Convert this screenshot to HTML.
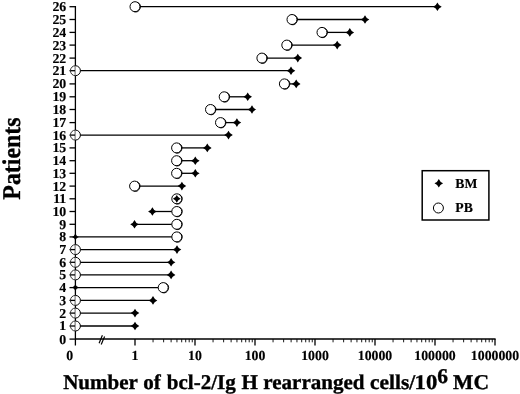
<!DOCTYPE html><html><head><meta charset="utf-8"><style>html,body{margin:0;padding:0;background:#fff;}svg{display:block;filter:grayscale(1);}text{text-rendering:geometricPrecision;font-family:"Liberation Serif",serif;font-weight:bold;fill:#000;stroke:#000;stroke-width:0.35px;}text.s{stroke-width:0.15px;}</style></head><body>
<svg width="520" height="394" viewBox="0 0 520 394">
<rect width="520" height="394" fill="#fff"/>
<line x1="75.4" y1="6.10" x2="75.4" y2="345.5" stroke="#000" stroke-width="1.3"/>
<line x1="69.5" y1="339.10" x2="75.4" y2="339.10" stroke="#000" stroke-width="1.3"/>
<text transform="translate(66.3,343.50) scale(1.02,1)" font-size="13.6" text-anchor="end" class="s">0</text>
<line x1="69.5" y1="326.00" x2="75.4" y2="326.00" stroke="#000" stroke-width="1.3"/>
<text transform="translate(66.3,330.40) scale(1.02,1)" font-size="13.6" text-anchor="end" class="s">1</text>
<line x1="69.5" y1="313.10" x2="75.4" y2="313.10" stroke="#000" stroke-width="1.3"/>
<text transform="translate(66.3,317.50) scale(1.02,1)" font-size="13.6" text-anchor="end" class="s">2</text>
<line x1="69.5" y1="300.40" x2="75.4" y2="300.40" stroke="#000" stroke-width="1.3"/>
<text transform="translate(66.3,304.80) scale(1.02,1)" font-size="13.6" text-anchor="end" class="s">3</text>
<line x1="69.5" y1="287.60" x2="75.4" y2="287.60" stroke="#000" stroke-width="1.3"/>
<text transform="translate(66.3,292.00) scale(1.02,1)" font-size="13.6" text-anchor="end" class="s">4</text>
<line x1="69.5" y1="274.90" x2="75.4" y2="274.90" stroke="#000" stroke-width="1.3"/>
<text transform="translate(66.3,279.30) scale(1.02,1)" font-size="13.6" text-anchor="end" class="s">5</text>
<line x1="69.5" y1="262.30" x2="75.4" y2="262.30" stroke="#000" stroke-width="1.3"/>
<text transform="translate(66.3,266.70) scale(1.02,1)" font-size="13.6" text-anchor="end" class="s">6</text>
<line x1="69.5" y1="249.60" x2="75.4" y2="249.60" stroke="#000" stroke-width="1.3"/>
<text transform="translate(66.3,254.00) scale(1.02,1)" font-size="13.6" text-anchor="end" class="s">7</text>
<line x1="69.5" y1="236.90" x2="75.4" y2="236.90" stroke="#000" stroke-width="1.3"/>
<text transform="translate(66.3,241.30) scale(1.02,1)" font-size="13.6" text-anchor="end" class="s">8</text>
<line x1="69.5" y1="224.30" x2="75.4" y2="224.30" stroke="#000" stroke-width="1.3"/>
<text transform="translate(66.3,228.70) scale(1.02,1)" font-size="13.6" text-anchor="end" class="s">9</text>
<line x1="69.5" y1="211.50" x2="75.4" y2="211.50" stroke="#000" stroke-width="1.3"/>
<text transform="translate(66.3,215.90) scale(1.02,1)" font-size="13.6" text-anchor="end" class="s">10</text>
<line x1="69.5" y1="198.80" x2="75.4" y2="198.80" stroke="#000" stroke-width="1.3"/>
<text transform="translate(66.3,203.20) scale(1.02,1)" font-size="13.6" text-anchor="end" class="s">11</text>
<line x1="69.5" y1="186.10" x2="75.4" y2="186.10" stroke="#000" stroke-width="1.3"/>
<text transform="translate(66.3,190.50) scale(1.02,1)" font-size="13.6" text-anchor="end" class="s">12</text>
<line x1="69.5" y1="173.30" x2="75.4" y2="173.30" stroke="#000" stroke-width="1.3"/>
<text transform="translate(66.3,177.70) scale(1.02,1)" font-size="13.6" text-anchor="end" class="s">13</text>
<line x1="69.5" y1="160.70" x2="75.4" y2="160.70" stroke="#000" stroke-width="1.3"/>
<text transform="translate(66.3,165.10) scale(1.02,1)" font-size="13.6" text-anchor="end" class="s">14</text>
<line x1="69.5" y1="147.90" x2="75.4" y2="147.90" stroke="#000" stroke-width="1.3"/>
<text transform="translate(66.3,152.30) scale(1.02,1)" font-size="13.6" text-anchor="end" class="s">15</text>
<line x1="69.5" y1="135.10" x2="75.4" y2="135.10" stroke="#000" stroke-width="1.3"/>
<text transform="translate(66.3,139.50) scale(1.02,1)" font-size="13.6" text-anchor="end" class="s">16</text>
<line x1="69.5" y1="122.60" x2="75.4" y2="122.60" stroke="#000" stroke-width="1.3"/>
<text transform="translate(66.3,127.00) scale(1.02,1)" font-size="13.6" text-anchor="end" class="s">17</text>
<line x1="69.5" y1="109.50" x2="75.4" y2="109.50" stroke="#000" stroke-width="1.3"/>
<text transform="translate(66.3,113.90) scale(1.02,1)" font-size="13.6" text-anchor="end" class="s">18</text>
<line x1="69.5" y1="96.80" x2="75.4" y2="96.80" stroke="#000" stroke-width="1.3"/>
<text transform="translate(66.3,101.20) scale(1.02,1)" font-size="13.6" text-anchor="end" class="s">19</text>
<line x1="69.5" y1="83.90" x2="75.4" y2="83.90" stroke="#000" stroke-width="1.3"/>
<text transform="translate(66.3,88.30) scale(1.02,1)" font-size="13.6" text-anchor="end" class="s">20</text>
<line x1="69.5" y1="70.70" x2="75.4" y2="70.70" stroke="#000" stroke-width="1.3"/>
<text transform="translate(66.3,75.10) scale(1.02,1)" font-size="13.6" text-anchor="end" class="s">21</text>
<line x1="69.5" y1="58.10" x2="75.4" y2="58.10" stroke="#000" stroke-width="1.3"/>
<text transform="translate(66.3,62.50) scale(1.02,1)" font-size="13.6" text-anchor="end" class="s">22</text>
<line x1="69.5" y1="45.10" x2="75.4" y2="45.10" stroke="#000" stroke-width="1.3"/>
<text transform="translate(66.3,49.50) scale(1.02,1)" font-size="13.6" text-anchor="end" class="s">23</text>
<line x1="69.5" y1="32.40" x2="75.4" y2="32.40" stroke="#000" stroke-width="1.3"/>
<text transform="translate(66.3,36.80) scale(1.02,1)" font-size="13.6" text-anchor="end" class="s">24</text>
<line x1="69.5" y1="19.50" x2="75.4" y2="19.50" stroke="#000" stroke-width="1.3"/>
<text transform="translate(66.3,23.90) scale(1.02,1)" font-size="13.6" text-anchor="end" class="s">25</text>
<line x1="69.5" y1="6.70" x2="75.4" y2="6.70" stroke="#000" stroke-width="1.3"/>
<text transform="translate(66.3,11.10) scale(1.02,1)" font-size="13.6" text-anchor="end" class="s">26</text>
<line x1="75.4" y1="339.1" x2="495.6" y2="339.1" stroke="#000" stroke-width="1.5"/>
<line x1="135.00" y1="339.1" x2="135.00" y2="345.5" stroke="#000" stroke-width="1.3"/>
<line x1="153.06" y1="339.1" x2="153.06" y2="342.3" stroke="#000" stroke-width="0.9"/>
<line x1="163.63" y1="339.1" x2="163.63" y2="342.3" stroke="#000" stroke-width="0.9"/>
<line x1="171.12" y1="339.1" x2="171.12" y2="342.3" stroke="#000" stroke-width="0.9"/>
<line x1="176.94" y1="339.1" x2="176.94" y2="342.3" stroke="#000" stroke-width="0.9"/>
<line x1="181.69" y1="339.1" x2="181.69" y2="342.3" stroke="#000" stroke-width="0.9"/>
<line x1="185.71" y1="339.1" x2="185.71" y2="342.3" stroke="#000" stroke-width="0.9"/>
<line x1="189.19" y1="339.1" x2="189.19" y2="342.3" stroke="#000" stroke-width="0.9"/>
<line x1="192.25" y1="339.1" x2="192.25" y2="342.3" stroke="#000" stroke-width="0.9"/>
<line x1="195.00" y1="339.1" x2="195.00" y2="345.5" stroke="#000" stroke-width="1.3"/>
<line x1="213.06" y1="339.1" x2="213.06" y2="342.3" stroke="#000" stroke-width="0.9"/>
<line x1="223.63" y1="339.1" x2="223.63" y2="342.3" stroke="#000" stroke-width="0.9"/>
<line x1="231.12" y1="339.1" x2="231.12" y2="342.3" stroke="#000" stroke-width="0.9"/>
<line x1="236.94" y1="339.1" x2="236.94" y2="342.3" stroke="#000" stroke-width="0.9"/>
<line x1="241.69" y1="339.1" x2="241.69" y2="342.3" stroke="#000" stroke-width="0.9"/>
<line x1="245.71" y1="339.1" x2="245.71" y2="342.3" stroke="#000" stroke-width="0.9"/>
<line x1="249.19" y1="339.1" x2="249.19" y2="342.3" stroke="#000" stroke-width="0.9"/>
<line x1="252.25" y1="339.1" x2="252.25" y2="342.3" stroke="#000" stroke-width="0.9"/>
<line x1="255.00" y1="339.1" x2="255.00" y2="345.5" stroke="#000" stroke-width="1.3"/>
<line x1="273.06" y1="339.1" x2="273.06" y2="342.3" stroke="#000" stroke-width="0.9"/>
<line x1="283.63" y1="339.1" x2="283.63" y2="342.3" stroke="#000" stroke-width="0.9"/>
<line x1="291.12" y1="339.1" x2="291.12" y2="342.3" stroke="#000" stroke-width="0.9"/>
<line x1="296.94" y1="339.1" x2="296.94" y2="342.3" stroke="#000" stroke-width="0.9"/>
<line x1="301.69" y1="339.1" x2="301.69" y2="342.3" stroke="#000" stroke-width="0.9"/>
<line x1="305.71" y1="339.1" x2="305.71" y2="342.3" stroke="#000" stroke-width="0.9"/>
<line x1="309.19" y1="339.1" x2="309.19" y2="342.3" stroke="#000" stroke-width="0.9"/>
<line x1="312.25" y1="339.1" x2="312.25" y2="342.3" stroke="#000" stroke-width="0.9"/>
<line x1="315.00" y1="339.1" x2="315.00" y2="345.5" stroke="#000" stroke-width="1.3"/>
<line x1="333.06" y1="339.1" x2="333.06" y2="342.3" stroke="#000" stroke-width="0.9"/>
<line x1="343.63" y1="339.1" x2="343.63" y2="342.3" stroke="#000" stroke-width="0.9"/>
<line x1="351.12" y1="339.1" x2="351.12" y2="342.3" stroke="#000" stroke-width="0.9"/>
<line x1="356.94" y1="339.1" x2="356.94" y2="342.3" stroke="#000" stroke-width="0.9"/>
<line x1="361.69" y1="339.1" x2="361.69" y2="342.3" stroke="#000" stroke-width="0.9"/>
<line x1="365.71" y1="339.1" x2="365.71" y2="342.3" stroke="#000" stroke-width="0.9"/>
<line x1="369.19" y1="339.1" x2="369.19" y2="342.3" stroke="#000" stroke-width="0.9"/>
<line x1="372.25" y1="339.1" x2="372.25" y2="342.3" stroke="#000" stroke-width="0.9"/>
<line x1="375.00" y1="339.1" x2="375.00" y2="345.5" stroke="#000" stroke-width="1.3"/>
<line x1="393.06" y1="339.1" x2="393.06" y2="342.3" stroke="#000" stroke-width="0.9"/>
<line x1="403.63" y1="339.1" x2="403.63" y2="342.3" stroke="#000" stroke-width="0.9"/>
<line x1="411.12" y1="339.1" x2="411.12" y2="342.3" stroke="#000" stroke-width="0.9"/>
<line x1="416.94" y1="339.1" x2="416.94" y2="342.3" stroke="#000" stroke-width="0.9"/>
<line x1="421.69" y1="339.1" x2="421.69" y2="342.3" stroke="#000" stroke-width="0.9"/>
<line x1="425.71" y1="339.1" x2="425.71" y2="342.3" stroke="#000" stroke-width="0.9"/>
<line x1="429.19" y1="339.1" x2="429.19" y2="342.3" stroke="#000" stroke-width="0.9"/>
<line x1="432.25" y1="339.1" x2="432.25" y2="342.3" stroke="#000" stroke-width="0.9"/>
<line x1="435.00" y1="339.1" x2="435.00" y2="345.5" stroke="#000" stroke-width="1.3"/>
<line x1="453.06" y1="339.1" x2="453.06" y2="342.3" stroke="#000" stroke-width="0.9"/>
<line x1="463.63" y1="339.1" x2="463.63" y2="342.3" stroke="#000" stroke-width="0.9"/>
<line x1="471.12" y1="339.1" x2="471.12" y2="342.3" stroke="#000" stroke-width="0.9"/>
<line x1="476.94" y1="339.1" x2="476.94" y2="342.3" stroke="#000" stroke-width="0.9"/>
<line x1="481.69" y1="339.1" x2="481.69" y2="342.3" stroke="#000" stroke-width="0.9"/>
<line x1="485.71" y1="339.1" x2="485.71" y2="342.3" stroke="#000" stroke-width="0.9"/>
<line x1="489.19" y1="339.1" x2="489.19" y2="342.3" stroke="#000" stroke-width="0.9"/>
<line x1="492.25" y1="339.1" x2="492.25" y2="342.3" stroke="#000" stroke-width="0.9"/>
<line x1="495.00" y1="339.1" x2="495.00" y2="345.5" stroke="#000" stroke-width="1.3"/>
<text x="135.00" y="360.1" font-size="13.8" text-anchor="middle" class="s">1</text>
<text x="195.00" y="360.1" font-size="13.8" text-anchor="middle" class="s">10</text>
<text x="255.00" y="360.1" font-size="13.8" text-anchor="middle" class="s">100</text>
<text x="315.00" y="360.1" font-size="13.8" text-anchor="middle" class="s">1000</text>
<text x="375.00" y="360.1" font-size="13.8" text-anchor="middle" class="s">10000</text>
<text x="435.00" y="360.1" font-size="13.8" text-anchor="middle" class="s">100000</text>
<text x="495.00" y="360.1" font-size="13.8" text-anchor="middle" class="s">1000000</text>
<text x="69.8" y="360.1" font-size="13.8" text-anchor="middle" class="s">0</text>
<line x1="99.1" y1="343.3" x2="102.4" y2="335.3" stroke="#000" stroke-width="1.2"/>
<line x1="101.2" y1="344.4" x2="104.6" y2="336.4" stroke="#000" stroke-width="1.2"/>
<line x1="135.00" y1="6.70" x2="437.40" y2="6.70" stroke="#000" stroke-width="1.3"/>
<line x1="292.00" y1="19.50" x2="365.00" y2="19.50" stroke="#000" stroke-width="1.3"/>
<line x1="322.00" y1="32.40" x2="349.80" y2="32.40" stroke="#000" stroke-width="1.3"/>
<line x1="286.80" y1="45.10" x2="337.20" y2="45.10" stroke="#000" stroke-width="1.3"/>
<line x1="261.90" y1="58.10" x2="297.80" y2="58.10" stroke="#000" stroke-width="1.3"/>
<line x1="75.40" y1="70.70" x2="291.00" y2="70.70" stroke="#000" stroke-width="1.3"/>
<line x1="284.40" y1="83.90" x2="296.20" y2="83.90" stroke="#000" stroke-width="1.3"/>
<line x1="224.20" y1="96.80" x2="247.70" y2="96.80" stroke="#000" stroke-width="1.3"/>
<line x1="210.50" y1="109.50" x2="252.00" y2="109.50" stroke="#000" stroke-width="1.3"/>
<line x1="220.50" y1="122.60" x2="236.90" y2="122.60" stroke="#000" stroke-width="1.3"/>
<line x1="75.40" y1="135.10" x2="228.50" y2="135.10" stroke="#000" stroke-width="1.3"/>
<line x1="176.60" y1="147.90" x2="207.30" y2="147.90" stroke="#000" stroke-width="1.3"/>
<line x1="176.60" y1="160.70" x2="195.30" y2="160.70" stroke="#000" stroke-width="1.3"/>
<line x1="176.60" y1="173.30" x2="195.30" y2="173.30" stroke="#000" stroke-width="1.3"/>
<line x1="134.60" y1="186.10" x2="181.90" y2="186.10" stroke="#000" stroke-width="1.3"/>
<line x1="152.40" y1="211.50" x2="176.80" y2="211.50" stroke="#000" stroke-width="1.3"/>
<line x1="134.50" y1="224.30" x2="176.80" y2="224.30" stroke="#000" stroke-width="1.3"/>
<line x1="75.40" y1="236.90" x2="176.80" y2="236.90" stroke="#000" stroke-width="1.3"/>
<line x1="75.40" y1="249.60" x2="177.00" y2="249.60" stroke="#000" stroke-width="1.3"/>
<line x1="75.40" y1="262.30" x2="171.10" y2="262.30" stroke="#000" stroke-width="1.3"/>
<line x1="75.40" y1="274.90" x2="171.10" y2="274.90" stroke="#000" stroke-width="1.3"/>
<line x1="75.40" y1="287.60" x2="163.20" y2="287.60" stroke="#000" stroke-width="1.3"/>
<line x1="75.40" y1="300.40" x2="153.00" y2="300.40" stroke="#000" stroke-width="1.3"/>
<line x1="75.40" y1="313.10" x2="135.00" y2="313.10" stroke="#000" stroke-width="1.3"/>
<line x1="75.40" y1="326.00" x2="135.00" y2="326.00" stroke="#000" stroke-width="1.3"/>
<circle cx="135.00" cy="6.70" r="5.0" fill="#fff" stroke="#000" stroke-width="1.0"/>
<path d="M137.46,2.37 A5.0,5.0 0 0 1 134.06,11.73" fill="none" stroke="#000" stroke-width="0.9"/>
<circle cx="292.00" cy="19.50" r="5.0" fill="#fff" stroke="#000" stroke-width="1.0"/>
<path d="M294.46,15.17 A5.0,5.0 0 0 1 291.06,24.53" fill="none" stroke="#000" stroke-width="0.9"/>
<circle cx="322.00" cy="32.40" r="5.0" fill="#fff" stroke="#000" stroke-width="1.0"/>
<path d="M324.46,28.07 A5.0,5.0 0 0 1 321.06,37.43" fill="none" stroke="#000" stroke-width="0.9"/>
<circle cx="286.80" cy="45.10" r="5.0" fill="#fff" stroke="#000" stroke-width="1.0"/>
<path d="M289.26,40.77 A5.0,5.0 0 0 1 285.86,50.13" fill="none" stroke="#000" stroke-width="0.9"/>
<circle cx="261.90" cy="58.10" r="5.0" fill="#fff" stroke="#000" stroke-width="1.0"/>
<path d="M264.36,53.77 A5.0,5.0 0 0 1 260.96,63.13" fill="none" stroke="#000" stroke-width="0.9"/>
<path d="M75.40,65.70 A5.0,5.0 0 0 0 75.40,75.70" fill="none" stroke="#333" stroke-width="1.0"/>
<path d="M75.40,65.70 A5.0,5.0 0 0 1 75.40,75.70" fill="#fff" stroke="#000" stroke-width="1.0"/>
<circle cx="284.40" cy="83.90" r="5.0" fill="#fff" stroke="#000" stroke-width="1.0"/>
<path d="M286.86,79.57 A5.0,5.0 0 0 1 283.46,88.93" fill="none" stroke="#000" stroke-width="0.9"/>
<circle cx="224.20" cy="96.80" r="5.0" fill="#fff" stroke="#000" stroke-width="1.0"/>
<path d="M226.66,92.47 A5.0,5.0 0 0 1 223.26,101.83" fill="none" stroke="#000" stroke-width="0.9"/>
<circle cx="210.50" cy="109.50" r="5.0" fill="#fff" stroke="#000" stroke-width="1.0"/>
<path d="M212.96,105.17 A5.0,5.0 0 0 1 209.56,114.53" fill="none" stroke="#000" stroke-width="0.9"/>
<circle cx="220.50" cy="122.60" r="5.0" fill="#fff" stroke="#000" stroke-width="1.0"/>
<path d="M222.96,118.27 A5.0,5.0 0 0 1 219.56,127.63" fill="none" stroke="#000" stroke-width="0.9"/>
<path d="M75.40,130.10 A5.0,5.0 0 0 0 75.40,140.10" fill="none" stroke="#333" stroke-width="1.0"/>
<path d="M75.40,130.10 A5.0,5.0 0 0 1 75.40,140.10" fill="#fff" stroke="#000" stroke-width="1.0"/>
<circle cx="176.60" cy="147.90" r="5.0" fill="#fff" stroke="#000" stroke-width="1.0"/>
<path d="M179.06,143.57 A5.0,5.0 0 0 1 175.66,152.93" fill="none" stroke="#000" stroke-width="0.9"/>
<circle cx="176.60" cy="160.70" r="5.0" fill="#fff" stroke="#000" stroke-width="1.0"/>
<path d="M179.06,156.37 A5.0,5.0 0 0 1 175.66,165.73" fill="none" stroke="#000" stroke-width="0.9"/>
<circle cx="176.60" cy="173.30" r="5.0" fill="#fff" stroke="#000" stroke-width="1.0"/>
<path d="M179.06,168.97 A5.0,5.0 0 0 1 175.66,178.33" fill="none" stroke="#000" stroke-width="0.9"/>
<circle cx="134.60" cy="186.10" r="5.0" fill="#fff" stroke="#000" stroke-width="1.0"/>
<path d="M137.06,181.77 A5.0,5.0 0 0 1 133.66,191.13" fill="none" stroke="#000" stroke-width="0.9"/>
<circle cx="176.80" cy="198.80" r="5.0" fill="#fff" stroke="#000" stroke-width="1.0"/>
<path d="M179.26,194.47 A5.0,5.0 0 0 1 175.86,203.83" fill="none" stroke="#000" stroke-width="0.9"/>
<circle cx="176.80" cy="211.50" r="5.0" fill="#fff" stroke="#000" stroke-width="1.0"/>
<path d="M179.26,207.17 A5.0,5.0 0 0 1 175.86,216.53" fill="none" stroke="#000" stroke-width="0.9"/>
<circle cx="176.80" cy="224.30" r="5.0" fill="#fff" stroke="#000" stroke-width="1.0"/>
<path d="M179.26,219.97 A5.0,5.0 0 0 1 175.86,229.33" fill="none" stroke="#000" stroke-width="0.9"/>
<circle cx="176.80" cy="236.90" r="5.0" fill="#fff" stroke="#000" stroke-width="1.0"/>
<path d="M179.26,232.57 A5.0,5.0 0 0 1 175.86,241.93" fill="none" stroke="#000" stroke-width="0.9"/>
<path d="M75.40,244.60 A5.0,5.0 0 0 0 75.40,254.60" fill="none" stroke="#333" stroke-width="1.0"/>
<path d="M75.40,244.60 A5.0,5.0 0 0 1 75.40,254.60" fill="#fff" stroke="#000" stroke-width="1.0"/>
<path d="M75.40,257.30 A5.0,5.0 0 0 0 75.40,267.30" fill="none" stroke="#333" stroke-width="1.0"/>
<path d="M75.40,257.30 A5.0,5.0 0 0 1 75.40,267.30" fill="#fff" stroke="#000" stroke-width="1.0"/>
<path d="M75.40,269.90 A5.0,5.0 0 0 0 75.40,279.90" fill="none" stroke="#333" stroke-width="1.0"/>
<path d="M75.40,269.90 A5.0,5.0 0 0 1 75.40,279.90" fill="#fff" stroke="#000" stroke-width="1.0"/>
<circle cx="163.20" cy="287.60" r="5.0" fill="#fff" stroke="#000" stroke-width="1.0"/>
<path d="M165.66,283.27 A5.0,5.0 0 0 1 162.26,292.63" fill="none" stroke="#000" stroke-width="0.9"/>
<path d="M75.40,295.40 A5.0,5.0 0 0 0 75.40,305.40" fill="none" stroke="#333" stroke-width="1.0"/>
<path d="M75.40,295.40 A5.0,5.0 0 0 1 75.40,305.40" fill="#fff" stroke="#000" stroke-width="1.0"/>
<path d="M75.40,308.10 A5.0,5.0 0 0 0 75.40,318.10" fill="none" stroke="#333" stroke-width="1.0"/>
<path d="M75.40,308.10 A5.0,5.0 0 0 1 75.40,318.10" fill="#fff" stroke="#000" stroke-width="1.0"/>
<path d="M75.40,321.00 A5.0,5.0 0 0 0 75.40,331.00" fill="none" stroke="#333" stroke-width="1.0"/>
<path d="M75.40,321.00 A5.0,5.0 0 0 1 75.40,331.00" fill="#fff" stroke="#000" stroke-width="1.0"/>
<path d="M437.40,2.40 Q438.60,5.50 441.70,6.70 Q438.60,7.90 437.40,11.00 Q436.20,7.90 433.10,6.70 Q436.20,5.50 437.40,2.40Z" fill="#000"/>
<path d="M365.00,15.20 Q366.20,18.30 369.30,19.50 Q366.20,20.70 365.00,23.80 Q363.80,20.70 360.70,19.50 Q363.80,18.30 365.00,15.20Z" fill="#000"/>
<path d="M349.80,28.10 Q351.00,31.20 354.10,32.40 Q351.00,33.60 349.80,36.70 Q348.60,33.60 345.50,32.40 Q348.60,31.20 349.80,28.10Z" fill="#000"/>
<path d="M337.20,40.80 Q338.40,43.90 341.50,45.10 Q338.40,46.30 337.20,49.40 Q336.00,46.30 332.90,45.10 Q336.00,43.90 337.20,40.80Z" fill="#000"/>
<path d="M297.80,53.80 Q299.00,56.90 302.10,58.10 Q299.00,59.30 297.80,62.40 Q296.60,59.30 293.50,58.10 Q296.60,56.90 297.80,53.80Z" fill="#000"/>
<path d="M291.00,66.40 Q292.20,69.50 295.30,70.70 Q292.20,71.90 291.00,75.00 Q289.80,71.90 286.70,70.70 Q289.80,69.50 291.00,66.40Z" fill="#000"/>
<path d="M296.20,79.60 Q297.40,82.70 300.50,83.90 Q297.40,85.10 296.20,88.20 Q295.00,85.10 291.90,83.90 Q295.00,82.70 296.20,79.60Z" fill="#000"/>
<path d="M247.70,92.50 Q248.90,95.60 252.00,96.80 Q248.90,98.00 247.70,101.10 Q246.50,98.00 243.40,96.80 Q246.50,95.60 247.70,92.50Z" fill="#000"/>
<path d="M252.00,105.20 Q253.20,108.30 256.30,109.50 Q253.20,110.70 252.00,113.80 Q250.80,110.70 247.70,109.50 Q250.80,108.30 252.00,105.20Z" fill="#000"/>
<path d="M236.90,118.30 Q238.10,121.40 241.20,122.60 Q238.10,123.80 236.90,126.90 Q235.70,123.80 232.60,122.60 Q235.70,121.40 236.90,118.30Z" fill="#000"/>
<path d="M228.50,130.80 Q229.70,133.90 232.80,135.10 Q229.70,136.30 228.50,139.40 Q227.30,136.30 224.20,135.10 Q227.30,133.90 228.50,130.80Z" fill="#000"/>
<path d="M207.30,143.60 Q208.50,146.70 211.60,147.90 Q208.50,149.10 207.30,152.20 Q206.10,149.10 203.00,147.90 Q206.10,146.70 207.30,143.60Z" fill="#000"/>
<path d="M195.30,156.40 Q196.50,159.50 199.60,160.70 Q196.50,161.90 195.30,165.00 Q194.10,161.90 191.00,160.70 Q194.10,159.50 195.30,156.40Z" fill="#000"/>
<path d="M195.30,169.00 Q196.50,172.10 199.60,173.30 Q196.50,174.50 195.30,177.60 Q194.10,174.50 191.00,173.30 Q194.10,172.10 195.30,169.00Z" fill="#000"/>
<path d="M181.90,181.80 Q183.10,184.90 186.20,186.10 Q183.10,187.30 181.90,190.40 Q180.70,187.30 177.60,186.10 Q180.70,184.90 181.90,181.80Z" fill="#000"/>
<path d="M176.80,194.90 Q177.95,197.65 180.70,198.80 Q177.95,199.95 176.80,202.70 Q175.65,199.95 172.90,198.80 Q175.65,197.65 176.80,194.90Z" fill="#000"/>
<path d="M152.40,207.20 Q153.60,210.30 156.70,211.50 Q153.60,212.70 152.40,215.80 Q151.20,212.70 148.10,211.50 Q151.20,210.30 152.40,207.20Z" fill="#000"/>
<path d="M134.50,220.00 Q135.70,223.10 138.80,224.30 Q135.70,225.50 134.50,228.60 Q133.30,225.50 130.20,224.30 Q133.30,223.10 134.50,220.00Z" fill="#000"/>
<path d="M75.40,233.50 Q76.30,236.00 78.80,236.90 Q76.30,237.80 75.40,240.30 Q74.50,237.80 72.00,236.90 Q74.50,236.00 75.40,233.50Z" fill="#000"/>
<path d="M177.00,245.30 Q178.20,248.40 181.30,249.60 Q178.20,250.80 177.00,253.90 Q175.80,250.80 172.70,249.60 Q175.80,248.40 177.00,245.30Z" fill="#000"/>
<path d="M171.10,258.00 Q172.30,261.10 175.40,262.30 Q172.30,263.50 171.10,266.60 Q169.90,263.50 166.80,262.30 Q169.90,261.10 171.10,258.00Z" fill="#000"/>
<path d="M171.10,270.60 Q172.30,273.70 175.40,274.90 Q172.30,276.10 171.10,279.20 Q169.90,276.10 166.80,274.90 Q169.90,273.70 171.10,270.60Z" fill="#000"/>
<path d="M75.40,284.20 Q76.30,286.70 78.80,287.60 Q76.30,288.50 75.40,291.00 Q74.50,288.50 72.00,287.60 Q74.50,286.70 75.40,284.20Z" fill="#000"/>
<path d="M153.00,296.10 Q154.20,299.20 157.30,300.40 Q154.20,301.60 153.00,304.70 Q151.80,301.60 148.70,300.40 Q151.80,299.20 153.00,296.10Z" fill="#000"/>
<path d="M135.00,308.80 Q136.20,311.90 139.30,313.10 Q136.20,314.30 135.00,317.40 Q133.80,314.30 130.70,313.10 Q133.80,311.90 135.00,308.80Z" fill="#000"/>
<path d="M135.00,321.70 Q136.20,324.80 139.30,326.00 Q136.20,327.20 135.00,330.30 Q133.80,327.20 130.70,326.00 Q133.80,324.80 135.00,321.70Z" fill="#000"/>
<rect x="422.2" y="170.7" width="66.7" height="49.3" fill="none" stroke="#000" stroke-width="1.5"/>
<path d="M438.80,179.00 Q440.00,182.10 443.10,183.30 Q440.00,184.50 438.80,187.60 Q437.60,184.50 434.50,183.30 Q437.60,182.10 438.80,179.00Z" fill="#000"/>
<circle cx="438.4" cy="208" r="5.0" fill="#fff" stroke="#000" stroke-width="1.0"/>
<text x="455.3" y="187.8" font-size="13.7" class="s">BM</text>
<text x="455.3" y="212.3" font-size="13.7" class="s">PB</text>
<text transform="translate(19.6,158.6) rotate(-90) scale(0.935,1)" font-size="25.5" text-anchor="middle">Patients</text>
<text transform="translate(63.2,389) scale(1,1)" font-size="21" class="t">Number</text>
<text transform="translate(143.3,389) scale(1,1)" font-size="21" class="t">of</text>
<text transform="translate(166.8,389) scale(1,1)" font-size="21" class="t">bcl-2/Ig</text>
<text transform="translate(241.6,389) scale(1.0,1)" font-size="21" class="t">H</text>
<text transform="translate(263.3,389) scale(1,1)" font-size="21" class="t">rearranged</text>
<text transform="translate(370.0,389) scale(1.02,1)" font-size="21" class="t">cells/</text>
<text transform="translate(414.6,389) scale(1.08,1)" font-size="21" class="t">10</text>
<text transform="translate(437.2,383.3) scale(1.02,1)" font-size="21" class="t">6</text>
<text transform="translate(453.1,389) scale(1.025,1)" font-size="21" class="t">MC</text>
</svg></body></html>
